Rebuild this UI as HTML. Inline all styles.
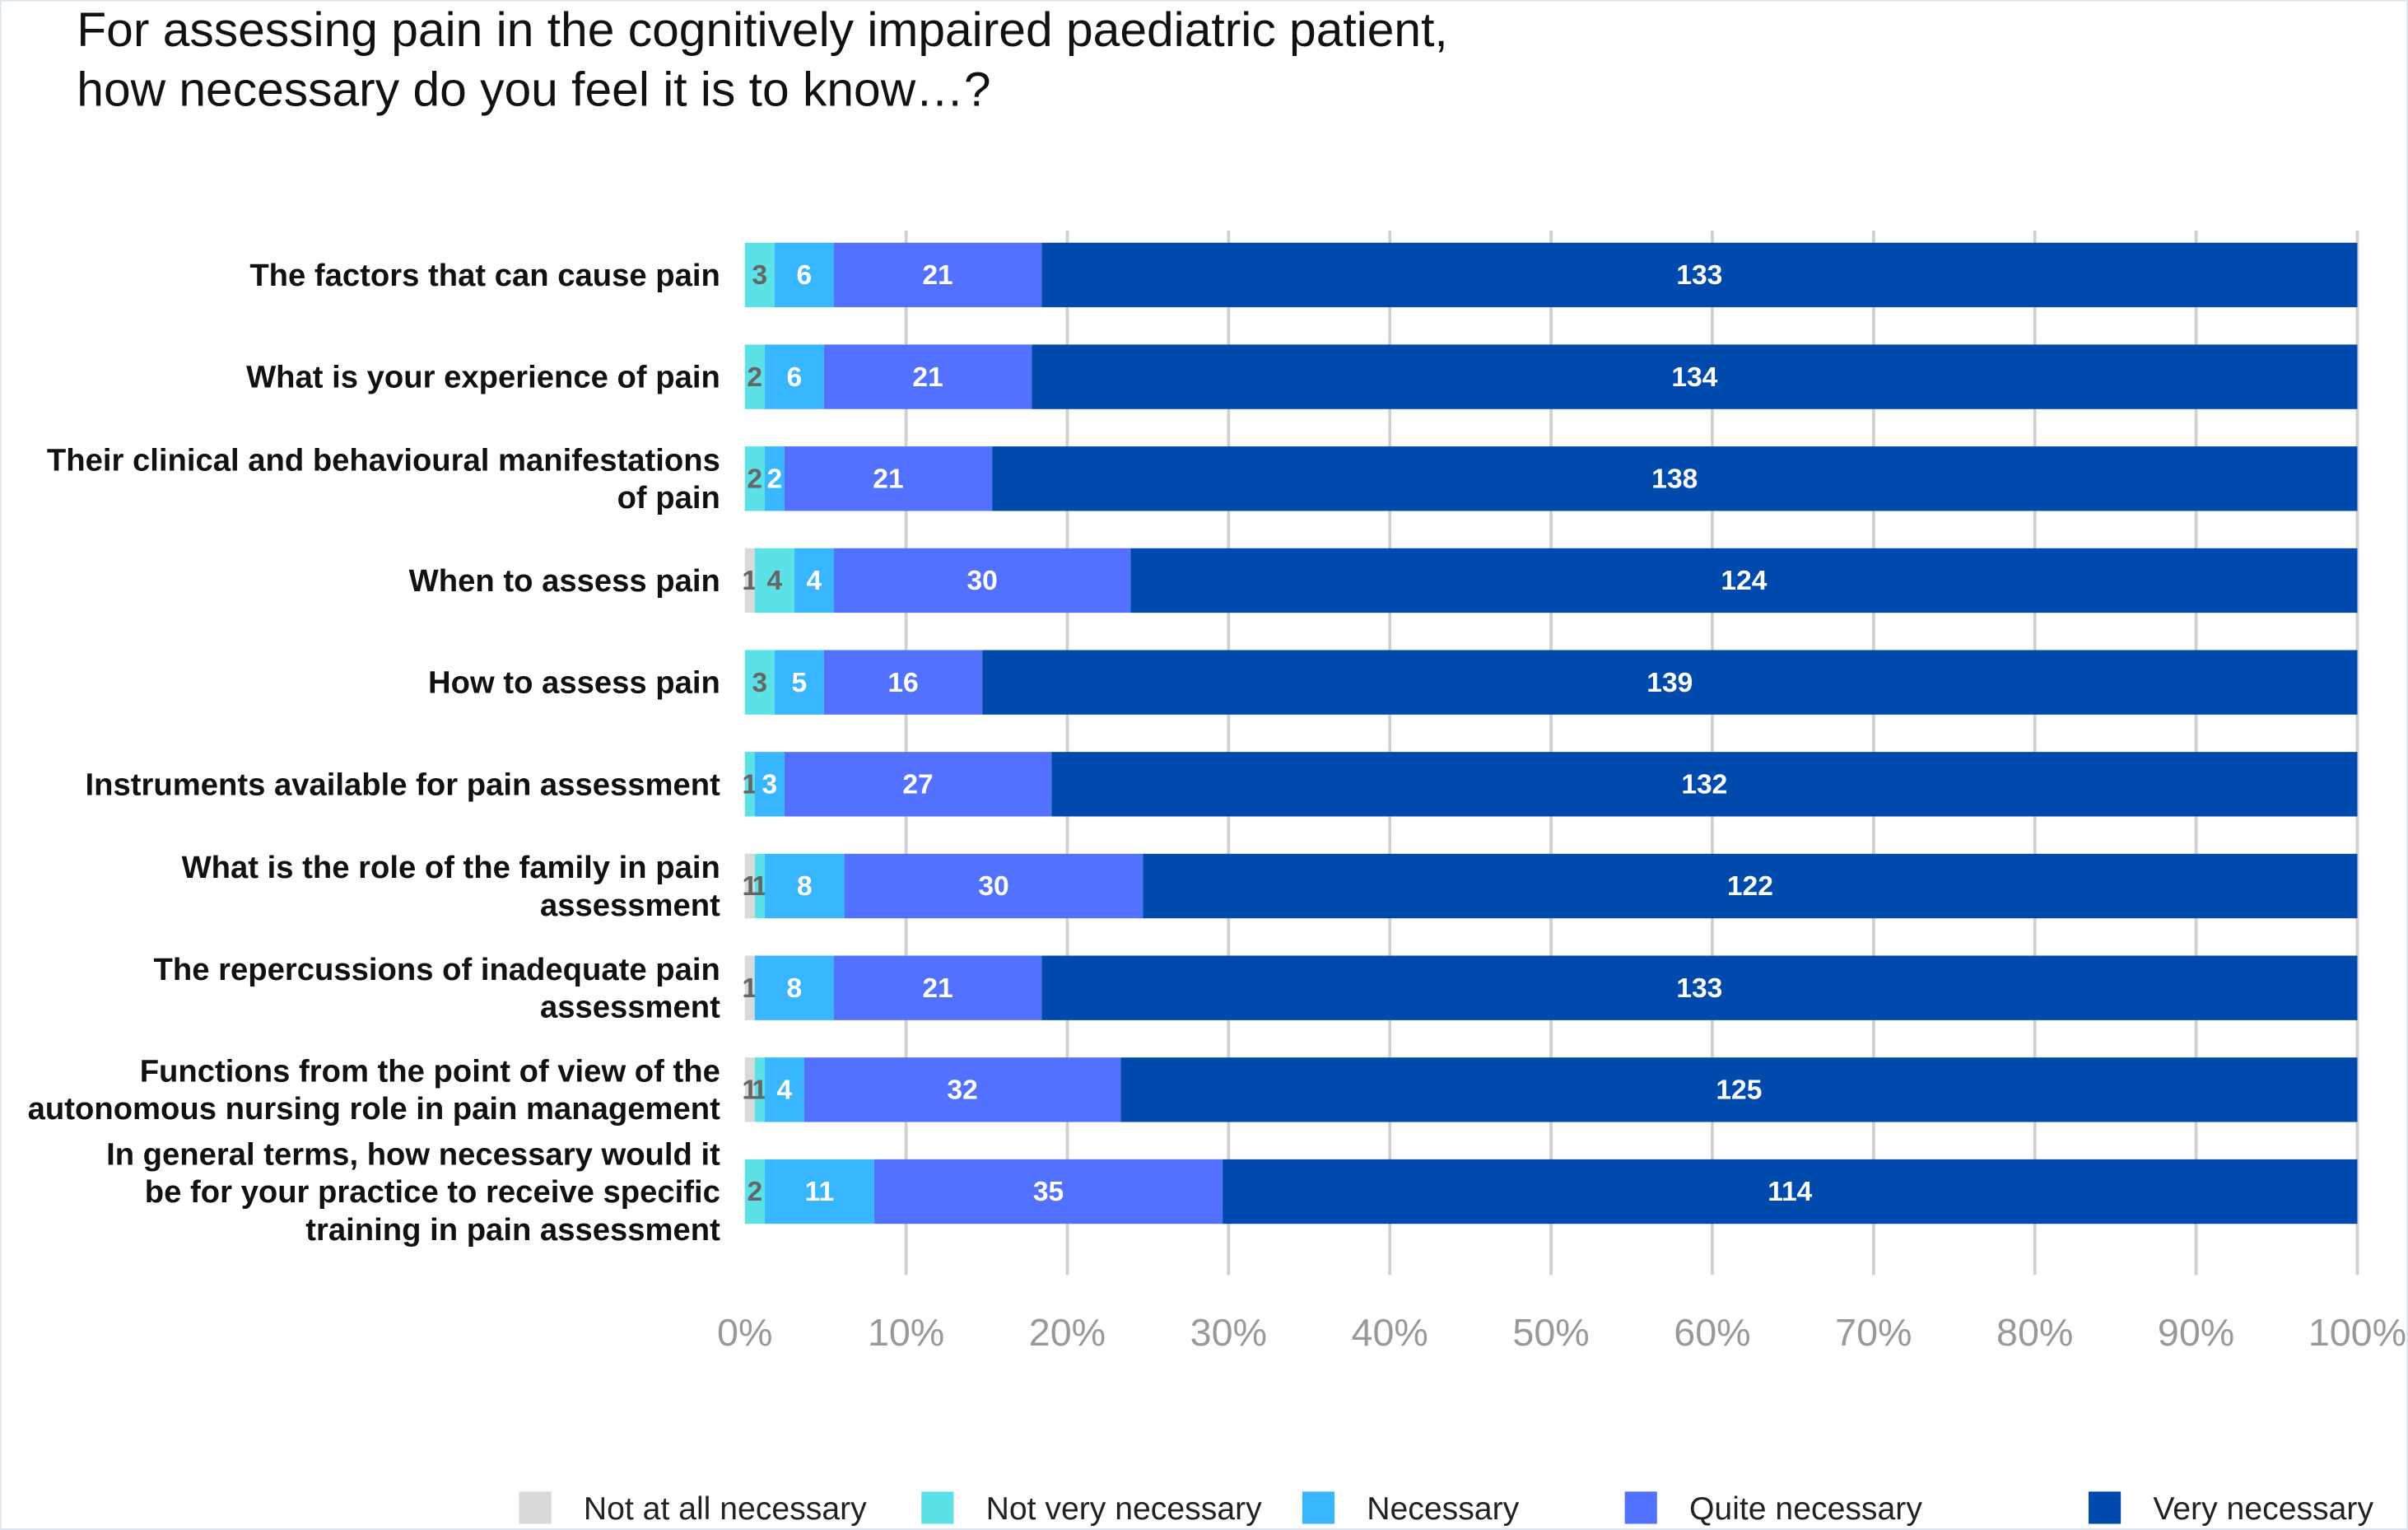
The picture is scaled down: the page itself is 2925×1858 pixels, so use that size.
<!DOCTYPE html>
<html><head><meta charset="utf-8"><style>
html,body{margin:0;padding:0;background:#fff}
svg{display:block}
</style></head><body>
<svg id="chart" width="2925" height="1858" viewBox="0 0 1568 996" xmlns="http://www.w3.org/2000/svg" font-family="Liberation Sans, sans-serif">
<rect x="0.5" y="0.5" width="1567" height="995" fill="#fff" stroke="#dde6ef"/>
<text x="50" y="30" font-size="31.5" fill="#111">For assessing pain in the cognitively impaired paediatric patient,</text>
<text x="50" y="69" font-size="31.5" fill="#111">how necessary do you feel it is to know…?</text>
<g id="grid"></g><g id="bars"></g><g id="cats"></g><g id="ticks"></g><g id="legend"></g>
</svg>
<script>
const categories=[
["The factors that can cause pain"],
["What is your experience of pain"],
["Their clinical and behavioural manifestations","of pain"],
["When to assess pain"],
["How to assess pain"],
["Instruments available for pain assessment"],
["What is the role of the family in pain","assessment"],
["The repercussions of inadequate pain","assessment"],
["Functions from the point of view of the","autonomous nursing role in pain management"],
["In general terms, how necessary would it","be for your practice to receive specific","training in pain assessment"]];
const notAtAll=[0,0,0,1,0,0,1,1,1,0];
const notVery=[3,2,2,4,3,1,1,0,1,2];
const necessary=[6,6,2,4,5,3,8,8,4,11];
const quite=[21,21,21,30,16,27,30,21,32,35];
const very=[133,134,138,124,139,132,122,133,125,114];
const seriesNames=["Not at all necessary","Not very necessary","Necessary","Quite necessary","Very necessary"];
const tickLabels=["0%","10%","20%","30%","40%","50%","60%","70%","80%","90%","100%"];
const colors=["#d9d9d9","#5ce1e6","#38b6ff","#5271ff","#004aad"];
const NS="http://www.w3.org/2000/svg";
const X0=485,X1=1535,Y0=179,STEP=66.3,BH=42;
const xs=p=>X0+(X1-X0)*p;
const ys=i=>Y0+i*STEP;
function mk(t,a,parent,txt){const e=document.createElementNS(NS,t);for(const k in a)e.setAttribute(k,a[k]);if(txt!==undefined)e.textContent=txt;document.getElementById(parent).appendChild(e);return e;}
tickLabels.forEach((t,i)=>{
 const x=xs(i/10);
 if(i>0){const g=mk('line',{x1:x,x2:x,y1:150,y2:830,stroke:'#d0d0d0','stroke-width':2},'grid');
 
 }
 const l=mk('text',{x:x,y:876,'font-size':25,fill:'#999','text-anchor':'middle'},'ticks',t);
 
 
});
const series=[notAtAll,notVery,necessary,quite,very];
categories.forEach((c,i)=>{
 const vals=series.map(s=>s[i]);const tot=vals.reduce((a,b)=>a+b,0);
 let acc=0;const yc=ys(i);
 vals.forEach((v,k)=>{
  if(v<=0)return;
  const xa=xs(acc/tot),xb=xs((acc+v)/tot);acc+=v;
  const r=mk('rect',{x:xa,y:yc-BH/2,width:xb-xa,height:BH,fill:colors[k]},'bars');
  
  
  const dark=k<2;
  const t=mk('text',{x:(xa+xb)/2,y:yc+6,'font-size':18,'font-weight':'bold',fill:dark?'#666':'#fff','text-anchor':'middle'},'bars',String(v));
  
  
 });
 const n=c.length;
 c.forEach((line,j)=>{
  const t=mk('text',{x:469,y:yc+7+(j-(n-1)/2)*24.5,'font-size':20.5,'font-weight':'bold',fill:'#111','text-anchor':'end'},'cats',line);
  
  
 });
});
const lx=[338,600,848,1058,1360];
seriesNames.forEach((s,k)=>{
 const r=mk('rect',{x:lx[k],y:971,width:21,height:21,fill:colors[k]},'legend');
 
 
 const t=mk('text',{x:lx[k]+42,y:989,'font-size':21,fill:'#222'},'legend',s);
 
 
});
</script>
</body></html>
